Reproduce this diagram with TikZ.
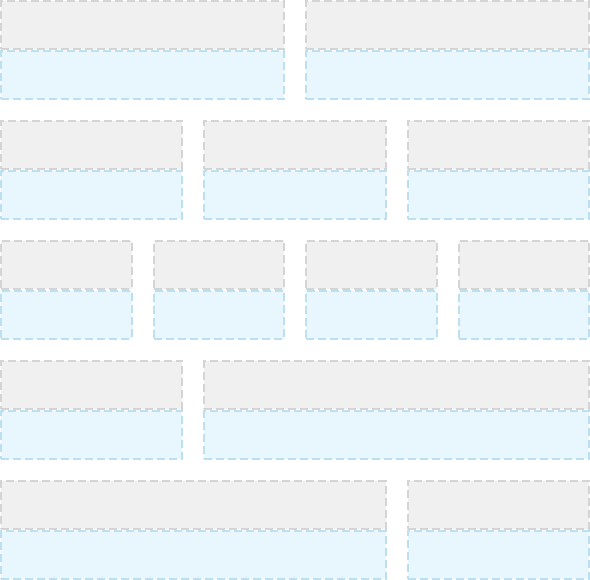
\documentclass[tikz,border=0pt]{standalone}
\definecolor{grayfill}{HTML}{F0F0F0}
\definecolor{grayline}{HTML}{D4D4D4}
\definecolor{bluefill}{HTML}{E8F7FE}
\definecolor{blueline}{HTML}{BDE0F0}
\newcommand\mkcell[4]{%
  \node[graybox, minimum width={(#3-#2-2)*0.75pt}] (#1g) at ({(#2+#3)/2},{#4+25}) {};
  \node[bluebox, minimum width={(#3-#2-2)*0.75pt}] (#1b) at ({(#2+#3)/2},{#4+75}) {};
}
\begin{document}
\begin{tikzpicture}[x=0.75pt,y=-0.75pt,
  cellbase/.style={rectangle, inner sep=0pt, outer sep=0pt, line width=1.5pt,
    dash pattern=on 6pt off 3pt, minimum height=36pt},
  graybox/.style={cellbase, draw=grayline, fill=grayfill},
  bluebox/.style={cellbase, draw=blueline, fill=bluefill}]
\useasboundingbox (0,0) rectangle (590,580);
\mkcell{a1}{0}{285}{0}
\mkcell{a2}{305}{590}{0}
\mkcell{b1}{0}{183.33}{120}
\mkcell{b2}{203.33}{386.67}{120}
\mkcell{b3}{406.67}{590}{120}
\mkcell{c1}{0}{132.5}{240}
\mkcell{c2}{152.5}{285}{240}
\mkcell{c3}{305}{437.5}{240}
\mkcell{c4}{457.5}{590}{240}
\mkcell{d1}{0}{183.33}{360}
\mkcell{d2}{203.33}{590}{360}
\mkcell{e1}{0}{386.67}{480}
\mkcell{e2}{406.67}{590}{480}
\end{tikzpicture}
\end{document}
